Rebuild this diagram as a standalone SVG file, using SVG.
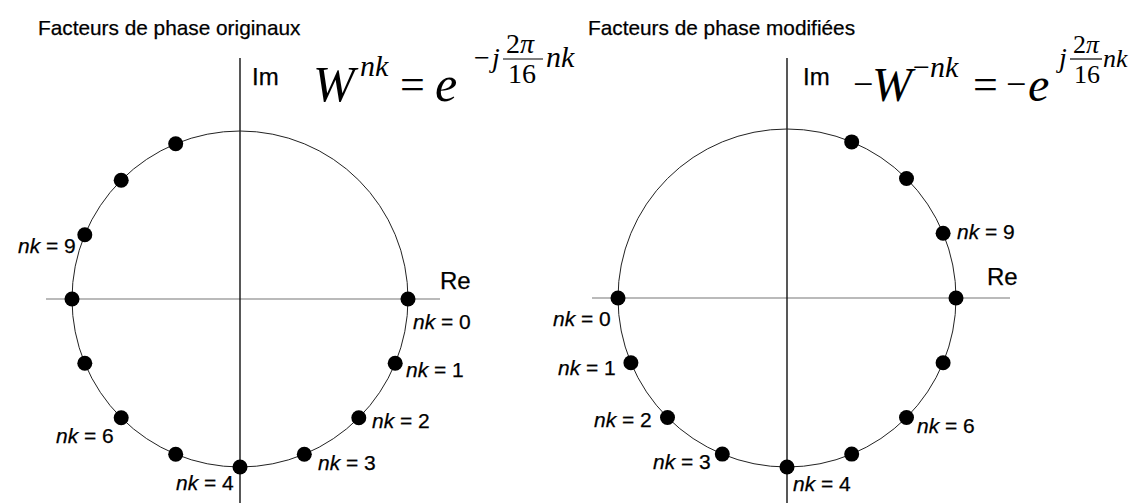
<svg xmlns="http://www.w3.org/2000/svg" width="1130" height="503" viewBox="0 0 1130 503">
<style>
.title{font-family:"Liberation Sans",Arial,sans-serif;font-size:20.8px;fill:#000;stroke:#000;stroke-width:0.25}
.ax{font-family:"Liberation Sans",Arial,sans-serif;font-size:24px;fill:#000;stroke:#000;stroke-width:0.25}
.lbl{font-family:"Liberation Sans",Arial,sans-serif;font-size:21px;fill:#000;stroke:#000;stroke-width:0.25}
.it{font-style:italic}
.circ{fill:none;stroke:#222;stroke-width:1}
.hax{stroke:#777;stroke-width:1.2}
.vax{stroke:#111;stroke-width:1.4}
.dot{fill:#000}
.fm{font-family:"Liberation Serif","Times New Roman",serif;fill:#000}
.fl{stroke:#000;stroke-width:1.2}
</style>
<rect width="1130" height="503" fill="#fff"/>
<text class="title" x="38" y="35">Facteurs de phase originaux</text>
<text class="title" x="588" y="35">Facteurs de phase modifiées</text>

<g id="axes-left">
<line class="hax" x1="46" y1="299" x2="440" y2="299"/>
<line class="vax" x1="240" y1="58" x2="240" y2="503"/>
<circle class="circ" cx="240" cy="299" r="168"/>
<text class="ax" x="252" y="85">Im</text>
<text class="ax" x="440" y="289">Re</text>
</g>
<g id="axes-right">
<line class="hax" x1="592" y1="298" x2="1010" y2="298"/>
<line class="vax" x1="787" y1="58" x2="787" y2="503"/>
<circle class="circ" cx="787" cy="298" r="169"/>
<text class="ax" x="803" y="85">Im</text>
<text class="ax" x="987" y="285">Re</text>
</g>

<g id="formula-left" class="fm">
<text x="313" y="101" font-size="50" font-style="italic">W</text>
<text x="360" y="76" font-size="30" font-style="italic">nk</text>
<text x="400" y="99" font-size="44">=</text>
<text x="435" y="101" font-size="50" font-style="italic">e</text>
<text x="474" y="67" font-size="28">−</text>
<text x="492" y="67" font-size="28" font-style="italic">j</text>
<text x="506" y="53" font-size="28">2<tspan font-style="italic">π</tspan></text>
<line class="fl" x1="503" y1="59" x2="543" y2="59"/>
<text x="508" y="83" font-size="28">16</text>
<text x="546" y="67" font-size="30" font-style="italic">nk</text>
</g>

<g id="formula-right" class="fm">
<text x="853" y="96" font-size="36">−</text>
<text x="872" y="101" font-size="48" font-style="italic">W</text>
<text x="913" y="77" font-size="30">−<tspan font-style="italic">nk</tspan></text>
<text x="973" y="99" font-size="44">=</text>
<text x="1006" y="96" font-size="36">−</text>
<text x="1028" y="101" font-size="48" font-style="italic">e</text>
<text x="1059" y="67" font-size="28" font-style="italic">j</text>
<text x="1073" y="53" font-size="26">2<tspan font-style="italic">π</tspan></text>
<line class="fl" x1="1070" y1="59" x2="1102" y2="59"/>
<text x="1074" y="83" font-size="26">16</text>
<text x="1103" y="67" font-size="26" font-style="italic">nk</text>
</g>

<g id="dots-left">
<circle class="dot" cx="408" cy="299" r="7.5"/>
<circle class="dot" cx="395.2" cy="363.3" r="7.5"/>
<circle class="dot" cx="358.8" cy="417.8" r="7.5"/>
<circle class="dot" cx="304.3" cy="454.2" r="7.5"/>
<circle class="dot" cx="240" cy="467" r="7.5"/>
<circle class="dot" cx="175.7" cy="454.2" r="7.5"/>
<circle class="dot" cx="121.2" cy="417.8" r="7.5"/>
<circle class="dot" cx="84.8" cy="363.3" r="7.5"/>
<circle class="dot" cx="72" cy="299" r="7.5"/>
<circle class="dot" cx="84.8" cy="234.7" r="7.5"/>
<circle class="dot" cx="121.2" cy="180.2" r="7.5"/>
<circle class="dot" cx="175.7" cy="143.8" r="7.5"/>
</g>
<g id="dots-right">
<circle class="dot" cx="618" cy="298" r="7.5"/>
<circle class="dot" cx="630.9" cy="362.7" r="7.5"/>
<circle class="dot" cx="667.5" cy="417.5" r="7.5"/>
<circle class="dot" cx="722.3" cy="454.1" r="7.5"/>
<circle class="dot" cx="787" cy="467" r="7.5"/>
<circle class="dot" cx="851.7" cy="454.1" r="7.5"/>
<circle class="dot" cx="906.5" cy="417.5" r="7.5"/>
<circle class="dot" cx="943.1" cy="362.7" r="7.5"/>
<circle class="dot" cx="956" cy="298" r="7.5"/>
<circle class="dot" cx="943.1" cy="233.3" r="7.5"/>
<circle class="dot" cx="906.5" cy="178.5" r="7.5"/>
<circle class="dot" cx="851.7" cy="141.9" r="7.5"/>
</g>

<g id="labels-left" class="lbl">
<text x="413" y="329"><tspan class="it">nk</tspan> = 0</text>
<text x="406" y="377"><tspan class="it">nk</tspan> = 1</text>
<text x="372" y="428"><tspan class="it">nk</tspan> = 2</text>
<text x="318" y="470"><tspan class="it">nk</tspan> = 3</text>
<text x="176" y="490"><tspan class="it">nk</tspan> = 4</text>
<text x="56" y="443"><tspan class="it">nk</tspan> = 6</text>
<text x="18" y="253"><tspan class="it">nk</tspan> = 9</text>
</g>
<g id="labels-right" class="lbl">
<text x="553" y="326"><tspan class="it">nk</tspan> = 0</text>
<text x="558" y="375"><tspan class="it">nk</tspan> = 1</text>
<text x="594" y="427"><tspan class="it">nk</tspan> = 2</text>
<text x="653" y="469"><tspan class="it">nk</tspan> = 3</text>
<text x="793" y="491"><tspan class="it">nk</tspan> = 4</text>
<text x="917" y="433"><tspan class="it">nk</tspan> = 6</text>
<text x="957" y="239"><tspan class="it">nk</tspan> = 9</text>
</g>
</svg>
